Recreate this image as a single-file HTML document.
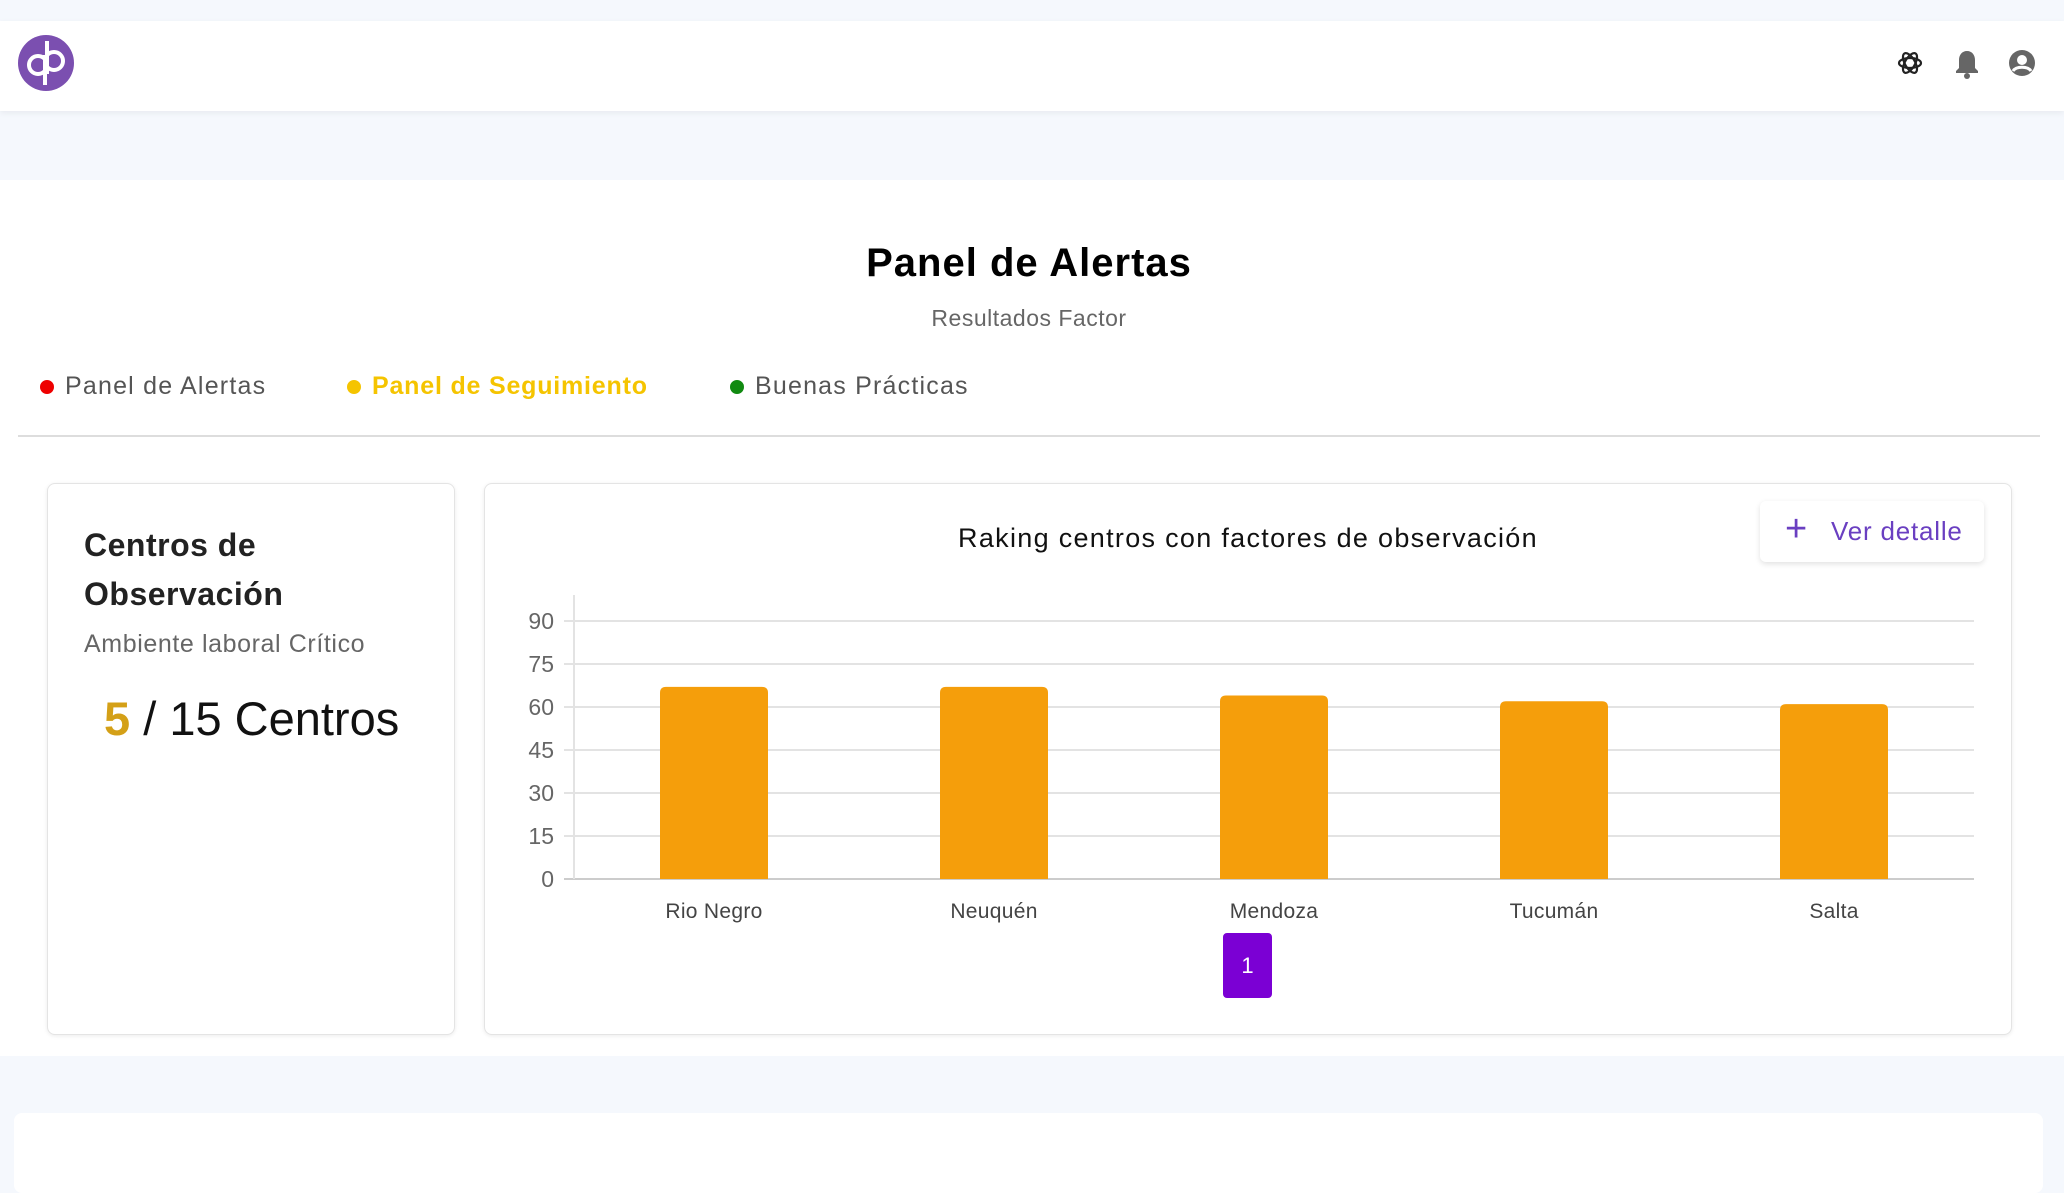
<!DOCTYPE html>
<html><head><meta charset="utf-8"><style>
body{margin:0;width:2064px;height:1172px;background:#f5f8fd;font-family:"Liberation Sans",sans-serif;position:relative;overflow:hidden}
.abs{position:absolute}
</style></head><body>
<div class="abs" style="left:0;top:21px;width:2064px;height:90px;background:#fff;box-shadow:0 2px 6px rgba(0,0,0,0.06)"></div>
<svg class="abs" style="left:18px;top:35px" width="56" height="56" viewBox="0 0 56 56"><circle cx="28" cy="28" r="28" fill="#7b4fb0"/><circle cx="20" cy="30" r="9" fill="none" stroke="#fff" stroke-width="4"/><circle cx="36" cy="26" r="9" fill="none" stroke="#fff" stroke-width="4"/><line x1="29" y1="6" x2="29" y2="39" stroke="#fff" stroke-width="4"/><line x1="27" y1="20" x2="27" y2="50" stroke="#fff" stroke-width="4"/></svg>
<svg class="abs" style="left:1896px;top:49px" width="28" height="28" viewBox="0 0 28 28"><g fill="none" stroke="#222" stroke-width="2.2"><ellipse cx="14" cy="14" rx="11" ry="5"/><ellipse cx="14" cy="14" rx="11" ry="5" transform="rotate(60 14 14)"/><ellipse cx="14" cy="14" rx="11" ry="5" transform="rotate(120 14 14)"/></g></svg>
<svg class="abs" style="left:1954px;top:49px" width="26" height="30" viewBox="0 0 26 30"><path d="M13 2c-5 0-8 4-8 9v8l-3 3v2h22v-2l-3-3v-8c0-5-3-9-8-9z" fill="#666"/><circle cx="13" cy="27" r="3" fill="#666"/></svg>
<svg class="abs" style="left:2008px;top:49px" width="28" height="28" viewBox="0 0 28 28"><circle cx="14" cy="14" r="13" fill="#666"/><circle cx="14" cy="11" r="5" fill="#fff"/><path d="M5 22c3-5 15-5 18 0" stroke="#fff" stroke-width="3" fill="none"/></svg>
<div class="abs" style="left:0;top:180px;width:2064px;height:876px;background:#fff"></div>
<div class="abs" style="left:0;width:2058px;top:241px;text-align:center;font-size:40px;font-weight:bold;color:#000;letter-spacing:1px">Panel de Alertas</div>
<div class="abs" style="left:0;width:2058px;top:305px;text-align:center;font-size:23px;color:#666;letter-spacing:0.5px">Resultados Factor</div>
<div class="abs" style="left:40px;top:372px;font-size:25px;color:#555;letter-spacing:1.2px"><span style="display:inline-block;width:14px;height:14px;border-radius:50%;background:#e00;margin-right:11px"></span>Panel de Alertas</div>
<div class="abs" style="left:347px;top:372px;font-size:25px;color:#f5c400;font-weight:bold;letter-spacing:0.8px"><span style="display:inline-block;width:14px;height:14px;border-radius:50%;background:#f5c400;margin-right:11px"></span>Panel de Seguimiento</div>
<div class="abs" style="left:730px;top:372px;font-size:25px;color:#555;letter-spacing:1.2px"><span style="display:inline-block;width:14px;height:14px;border-radius:50%;background:#118a11;margin-right:11px"></span>Buenas Prácticas</div>
<div class="abs" style="left:18px;top:435px;width:2022px;height:2px;background:#ddd"></div>
<div class="abs" style="left:47px;top:483px;width:406px;height:550px;background:#fff;border:1px solid #e4e4e4;border-radius:8px;box-shadow:0 1px 4px rgba(0,0,0,0.08)">
 <div style="position:absolute;left:36px;top:37px;font-size:32px;font-weight:bold;color:#222;line-height:49px;letter-spacing:0.5px">Centros de<br>Observación</div>
 <div style="position:absolute;left:36px;top:146px;font-size:25px;color:#666;letter-spacing:0.6px">Ambiente laboral Crítico</div>
 <div style="position:absolute;left:56px;top:207px;font-size:47px;color:#111;font-weight:500"><span style="color:#d4a017;font-weight:bold">5</span> / 15 Centros</div>
</div>
<div class="abs" style="left:484px;top:483px;width:1526px;height:550px;background:#fff;border:1px solid #e4e4e4;border-radius:8px;box-shadow:0 1px 4px rgba(0,0,0,0.08)"></div>
<div class="abs" style="left:850px;width:796px;top:523px;text-align:center;font-size:27px;color:#111;letter-spacing:1.3px">Raking centros con factores de observación</div>
<div class="abs" style="left:1760px;top:501px;width:224px;height:61px;background:#fff;border-radius:6px;box-shadow:0 2px 6px rgba(0,0,0,0.12);color:#6a3fc1;font-size:26px;line-height:61px;letter-spacing:0.8px"><span style="position:absolute;left:25px;font-size:38px;top:-2px">+</span><span style="position:absolute;left:71px">Ver detalle</span></div>
<svg class="abs" id="chart" style="left:0;top:0" width="2064" height="1172"></svg>
<div class="abs" style="left:1223px;top:933px;width:49px;height:65px;background:#7b00d4;border-radius:4px;color:#fff;font-size:22px;line-height:65px;text-align:center">1</div>
<div class="abs" style="left:14px;top:1113px;width:2029px;height:80px;background:#fff;border-radius:8px"></div>
<script>
const categories=["Rio Negro","Neuquén","Mendoza","Tucumán","Salta"];
const values=[67,67,64,62,61];
const ticks=[0,15,30,45,60,75,90];
const svg=document.getElementById('chart');const NS='http://www.w3.org/2000/svg';
const x0=574,x1=1974,yZero=879,yMax=621,vMax=90;
const y=v=>yZero-(v/vMax)*(yZero-yMax);
const band=(x1-x0)/categories.length;
const xc=i=>x0+band*(i+0.5);
function mk(t,a){const e=document.createElementNS(NS,t);for(const k in a)e.setAttribute(k,a[k]);svg.appendChild(e);return e;}
ticks.forEach(t=>{
 const l=mk('line',{x1:x0-10,x2:x1,y1:y(t),y2:y(t),stroke:t===0?'#ccc':'#e3e3e3','stroke-width':2});
 
 
 const tx=mk('text',{x:554,y:y(t)+8,'text-anchor':'end','font-size':23,fill:'#666','font-family':'Liberation Sans, sans-serif'});
 tx.textContent=t;
 
 
});
const ax=mk('line',{x1:x0,x2:x0,y1:595,y2:yZero,stroke:'#e3e3e3','stroke-width':2});


categories.forEach((c,i)=>{
 const w=108,top=y(values[i]);
 const b=mk('path',{d:`M${xc(i)-w/2},${yZero}V${top+6}q0,-6 6,-6h${w-12}q6,0 6,6V${yZero}Z`,fill:'#f59e0b'});
 
 
 const tx=mk('text',{x:xc(i),y:918,'text-anchor':'middle','font-size':21,fill:'#444','font-family':'Liberation Sans, sans-serif','letter-spacing':0.3});
 tx.textContent=c;
 
 
});
</script>
</body></html>
